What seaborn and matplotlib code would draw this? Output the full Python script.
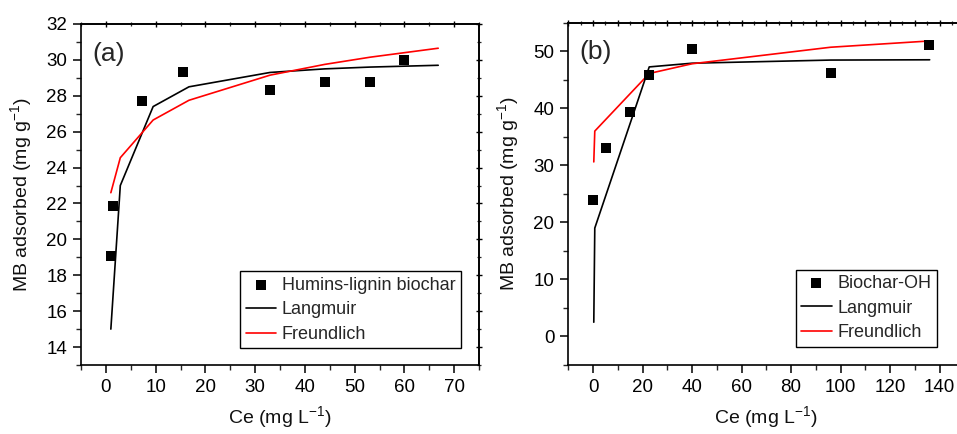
"""Adsorption isotherms of MB on humins-lignin biochar (a) and Biochar-OH (b)."""
import matplotlib

matplotlib.use("Agg")
import matplotlib.pyplot as plt
from matplotlib.ticker import MultipleLocator
import pandas as pd
import seaborn as sns

sns.set_theme(style="ticks")
plt.rcParams["font.family"] = ["Liberation Sans", "DejaVu Sans"]
plt.rcParams["mathtext.default"] = "regular"

# panel (a): humins-lignin biochar
a_ce = [1.0, 1.4, 7.3, 15.6, 33.0, 44.1, 53.1, 60.0]
a_qe = [19.05, 21.85, 27.7, 29.3, 28.3, 28.75, 28.75, 30.0]
a_fit_ce = [1.0, 2.9, 9.5, 16.7, 33.0, 44.0, 53.1, 66.8]
a_langmuir = [15.0, 23.0, 27.4, 28.5, 29.3, 29.5, 29.6, 29.7]
a_freundlich = [22.6, 24.55, 26.65, 27.75, 29.15, 29.75, 30.15, 30.65]

# panel (b): Biochar-OH
b_ce = [0.0, 5.4, 15.0, 22.7, 40.0, 96.0, 135.7]
b_qe = [24.0, 33.1, 39.4, 45.8, 50.35, 46.2, 51.15]
b_fit_ce = [0.3, 0.7, 22.7, 40.0, 96.0, 136.0]
b_langmuir = [2.5, 19.0, 47.25, 47.9, 48.45, 48.5]
b_freundlich = [30.6, 36.0, 46.1, 47.8, 50.7, 51.8]

LABEL_FS = 14
TICK_FS = 13.5
LEGEND_FS = 13


def mirror_ticks(ax, xmaj, xmin, ymaj, ymin):
    # small straddling ticks on the top and right frame, no labels
    top = ax.secondary_xaxis("top")
    right = ax.secondary_yaxis("right")
    top.xaxis.set_major_locator(MultipleLocator(xmaj))
    top.xaxis.set_minor_locator(MultipleLocator(xmin))
    right.yaxis.set_major_locator(MultipleLocator(ymaj))
    right.yaxis.set_minor_locator(MultipleLocator(ymin))
    for sec in (top, right):
        sec.tick_params(which="major", direction="inout", length=4, width=1.0,
                        labeltop=False, labelright=False, colors="black")
        sec.tick_params(which="minor", direction="inout", length=2.5, width=0.9)
        for sp in sec.spines.values():
            sp.set_linewidth(1.2)
            sp.set_color("black")


def draw_panel(ax, ce, qe, fit_ce, lang, freu, name):
    pts = pd.DataFrame({"ce": ce, "qe": qe})
    fit = pd.DataFrame({"ce": fit_ce, "lang": lang, "freu": freu})
    sns.scatterplot(data=pts, x="ce", y="qe", ax=ax, marker="s", s=62,
                    color="black", edgecolor="black", linewidth=0, label=name, zorder=3)
    sns.lineplot(data=fit, x="ce", y="lang", ax=ax, color="black", lw=1.2,
                 estimator=None, label="Langmuir")
    sns.lineplot(data=fit, x="ce", y="freu", ax=ax, color="red", lw=1.2,
                 estimator=None, label="Freundlich")
    ax.set_xlabel("Ce (mg L$^{-1}$)", fontsize=LABEL_FS, labelpad=6, color="#111111")
    ax.set_ylabel("MB adsorbed (mg g$^{-1}$)", fontsize=LABEL_FS, labelpad=9, color="#111111")
    for side in ["top", "right", "left", "bottom"]:
        ax.spines[side].set_visible(True)
        ax.spines[side].set_color("black")
        ax.spines[side].set_linewidth(1.2)
    ax.tick_params(axis="both", which="major", direction="out", length=6, width=1.1,
                   labelsize=TICK_FS, colors="black", pad=4)
    ax.tick_params(axis="both", which="minor", direction="out", length=3.5, width=1.0)
    ax.grid(False)


fig = plt.figure(figsize=(9.57, 4.34), dpi=100)
ax_a = fig.add_axes([81 / 957, 1 - 365 / 434, 398 / 957, 341 / 434])
ax_b = fig.add_axes([568.3 / 957, 1 - 365 / 434, 396 / 957, 342.3 / 434])

draw_panel(ax_a, a_ce, a_qe, a_fit_ce, a_langmuir, a_freundlich, "Humins-lignin biochar")
ax_a.set_xlim(-5, 75)
ax_a.set_ylim(13, 32)
ax_a.xaxis.set_major_locator(MultipleLocator(10))
ax_a.xaxis.set_minor_locator(MultipleLocator(5))
ax_a.yaxis.set_major_locator(MultipleLocator(2))
ax_a.yaxis.set_minor_locator(MultipleLocator(1))
mirror_ticks(ax_a, 10, 5, 2, 1)
ax_a.text(0.028, 0.913, "(a)", transform=ax_a.transAxes, fontsize=19, va="center")

draw_panel(ax_b, b_ce, b_qe, b_fit_ce, b_langmuir, b_freundlich, "Biochar-OH")
ax_b.set_xlim(-10, 150)
ax_b.set_ylim(-5, 55)
ax_b.xaxis.set_major_locator(MultipleLocator(20))
ax_b.xaxis.set_minor_locator(MultipleLocator(10))
ax_b.yaxis.set_major_locator(MultipleLocator(10))
ax_b.yaxis.set_minor_locator(MultipleLocator(5))
mirror_ticks(ax_b, 10, 5, 10, 5)
ax_b.text(0.028, 0.913, "(b)", transform=ax_b.transAxes, fontsize=19, va="center")

for ax, anchor in [(ax_a, (0.954, 0.049)), (ax_b, (0.93, 0.0535))]:
    leg = ax.legend(loc="lower right", bbox_to_anchor=anchor, borderaxespad=0,
                    fontsize=LEGEND_FS, frameon=True, fancybox=False, framealpha=1,
                    edgecolor="black", handlelength=1.7, handletextpad=0.3,
                    labelspacing=0.42, borderpad=0.3)
    leg.get_frame().set_linewidth(1.0)

fig.savefig("out.png", dpi=100)
plt.close(fig)
